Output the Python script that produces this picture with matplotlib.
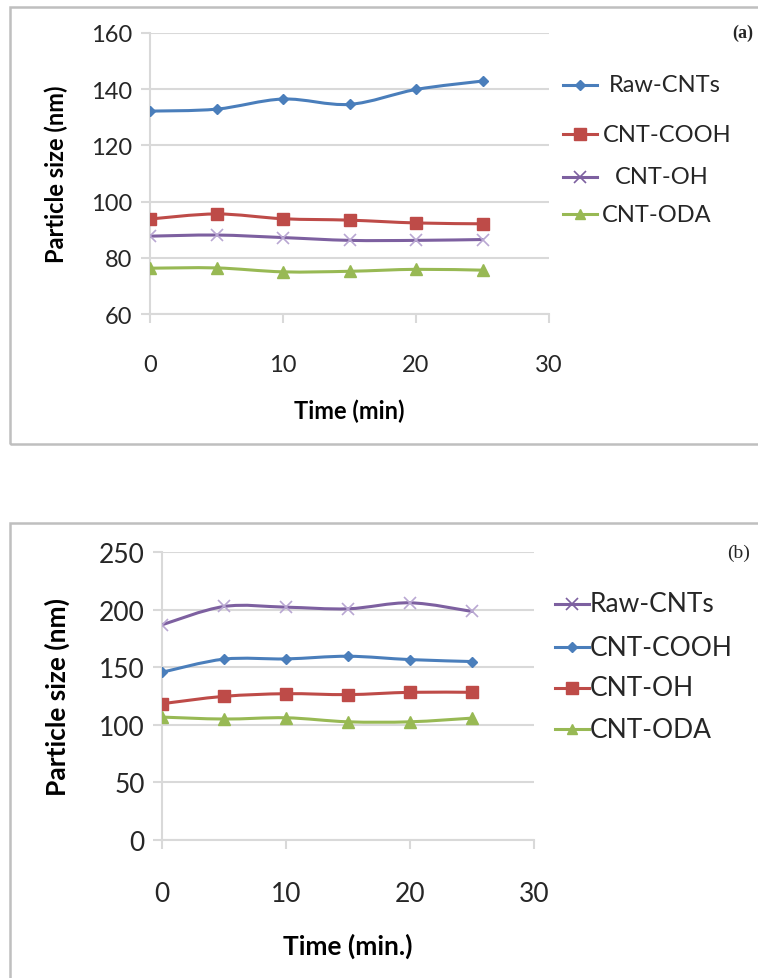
import numpy as np
import matplotlib
matplotlib.use("Agg")
import matplotlib.pyplot as plt
from matplotlib.path import Path
from matplotlib.patches import PathPatch, Rectangle
from matplotlib.lines import Line2D

plt.rcParams['font.family'] = ['Lato', 'DejaVu Sans']

# sampling times (min)
time_min = [0, 5, 10, 15, 20, 25]

# panel (a) particle size (nm)
a_raw = [132.2, 132.9, 136.5, 134.6, 139.9, 142.9]
a_cooh = [93.8, 95.6, 93.9, 93.4, 92.4, 92.1]
a_oh = [87.7, 88.1, 87.2, 86.2, 86.2, 86.5]
a_oda = [76.3, 76.4, 75.0, 75.2, 75.9, 75.6]

# panel (b) particle size (nm)
b_raw = [186.8, 202.7, 202.1, 200.7, 205.9, 198.4]
b_cooh = [145.6, 157.0, 157.2, 159.5, 156.6, 154.9]
b_oh = [118.3, 124.7, 127.0, 126.2, 128.2, 128.2]
b_oda = [106.7, 105.0, 106.1, 102.6, 102.6, 105.8]

names_a = ["Raw-CNTs", "CNT-COOH", "CNT-OH", "CNT-ODA"]
names_b = ["Raw-CNTs", "CNT-COOH", "CNT-OH", "CNT-ODA"]

BLUE = "#4a7ebb"
RED = "#be4b48"
PURPLE = "#7d60a0"
GREEN = "#98b954"
GRID = "#d9d9d9"
TXT = "#262626"

W, H = 758, 979
fig = plt.figure(figsize=(W / 100, H / 100), dpi=100)


def fx(px):
    return px / W


def fy(py):
    return 1 - py / H


def smooth_path(x, y):
    # Catmull-Rom style cubic bezier through the points (like Excel's smoothed line)
    pts = np.column_stack([x, y]).astype(float)
    n = len(pts)
    verts = [pts[0]]
    codes = [Path.MOVETO]
    for i in range(n - 1):
        p0 = pts[i - 1] if i > 0 else pts[i]
        p1 = pts[i]
        p2 = pts[i + 1]
        p3 = pts[i + 2] if i + 2 < n else pts[i + 1]
        c1 = p1 + (p2 - p0) / 6
        c2 = p2 - (p3 - p1) / 6
        verts += [c1, c2, p2]
        codes += [Path.CURVE4] * 3
    return Path(verts, codes)


def draw_series(ax, y, color, marker, ms, mec=None, mew=1.0):
    ax.add_patch(PathPatch(smooth_path(time_min, y), fill=False, edgecolor=color,
                           lw=2.2, capstyle='round', joinstyle='round', zorder=3))
    ax.plot(time_min, y, ls='none', marker=marker, ms=ms, color=color,
            mec=mec or color, mew=mew, zorder=4)


def style_axes(ax, ylim, ystep, fs, xpad):
    ax.set_xlim(0, 30)
    ax.set_ylim(*ylim)
    ax.set_xticks([0, 10, 20, 30])
    ax.set_yticks(np.arange(ylim[0], ylim[1] + 1, ystep))
    ax.grid(axis='y', color=GRID, lw=1.5)
    ax.set_axisbelow(True)
    for s in ['top', 'right']:
        ax.spines[s].set_visible(False)
    for s in ['left', 'bottom']:
        ax.spines[s].set_color(GRID)
        ax.spines[s].set_linewidth(1.5)
    ax.tick_params(axis='both', colors=GRID, length=6.5, width=1.5,
                   labelcolor=TXT, labelsize=fs)
    ax.tick_params(axis='x', pad=xpad)
    ax.tick_params(axis='y', pad=6)
    ax.spines['left'].set_bounds(ylim[0], ylim[1])


def legend_items(entries, ys, x0, x1, tx, fs):
    for (name, color, marker, ms, mew), y, t in zip(entries, ys, tx):
        fig.add_artist(Line2D([fx(x0), fx(x1)], [fy(y), fy(y)], color=color, lw=2.2,
                              transform=fig.transFigure))
        fig.add_artist(Line2D([fx((x0 + x1) / 2)], [fy(y)], color=color, marker=marker,
                              ms=ms, mew=mew, transform=fig.transFigure))
        fig.text(fx(t), fy(y), name, fontsize=fs, color=TXT, va='center', ha='left')


# outer frames around each panel
fig.add_artist(Rectangle((fx(10), fy(445)), fx(760), fy(8) - fy(445), fill=False,
                         edgecolor="#bfbfbf", lw=1.8, transform=fig.transFigure))
fig.add_artist(Rectangle((fx(10), fy(990)), fx(760), fy(524) - fy(990), fill=False,
                         edgecolor="#bfbfbf", lw=1.8, transform=fig.transFigure))

# ---- panel (a)
ax1 = fig.add_axes([fx(150), fy(315), fx(549) - fx(150), fy(34) - fy(315)])
style_axes(ax1, (60, 160), 20, 17, 22)
draw_series(ax1, a_raw, BLUE, 'D', 5)
draw_series(ax1, a_cooh, RED, 's', 8)
draw_series(ax1, a_oh, PURPLE, 'x', 8, mec="#b9a7d2", mew=1.2)
draw_series(ax1, a_oda, GREEN, '^', 8)
ax1.set_xlabel("Time (min)", fontsize=17, fontweight='bold', color='black', labelpad=17)
ax1.set_ylabel("Particle size (nm)", fontsize=17, fontweight='bold', color='black', labelpad=17)
fig.text(fx(753), fy(33), "(a)", fontsize=13, fontweight='bold', family='Liberation Serif',
         color=TXT, ha='right', va='center')

legend_items([(names_a[0], BLUE, 'D', 5, 1), (names_a[1], RED, 's', 8, 1),
              (names_a[2], PURPLE, 'x', 8, 1.2), (names_a[3], GREEN, '^', 7, 1)],
             [86, 135, 178, 215], 563, 597, [609, 603, 615, 602], 17)

# ---- panel (b)
ax2 = fig.add_axes([fx(162), fy(841), fx(534) - fx(162), fy(553) - fy(841)])
style_axes(ax2, (0, 250), 50, 19, 23)
draw_series(ax2, b_raw, PURPLE, 'x', 9, mec="#b9a7d2", mew=1.2)
draw_series(ax2, b_cooh, BLUE, 'D', 5.5)
draw_series(ax2, b_oh, RED, 's', 8.5)
draw_series(ax2, b_oda, GREEN, '^', 8)
ax2.set_xlabel("Time (min.)", fontsize=19, fontweight='bold', color='black', labelpad=19)
ax2.set_ylabel("Particle size (nm)", fontsize=19, fontweight='bold', color='black', labelpad=21)
fig.text(fx(750), fy(553), "(b)", fontsize=14, family='Liberation Serif',
         color=TXT, ha='right', va='center')

legend_items([(names_b[0], PURPLE, 'x', 9, 1.2), (names_b[1], BLUE, 'D', 5.5, 1),
              (names_b[2], RED, 's', 8.5, 1), (names_b[3], GREEN, '^', 7, 1)],
             [605, 648, 689, 730], 555, 589, [590, 590, 590, 590], 19)

fig.savefig("out.png", dpi=100)
